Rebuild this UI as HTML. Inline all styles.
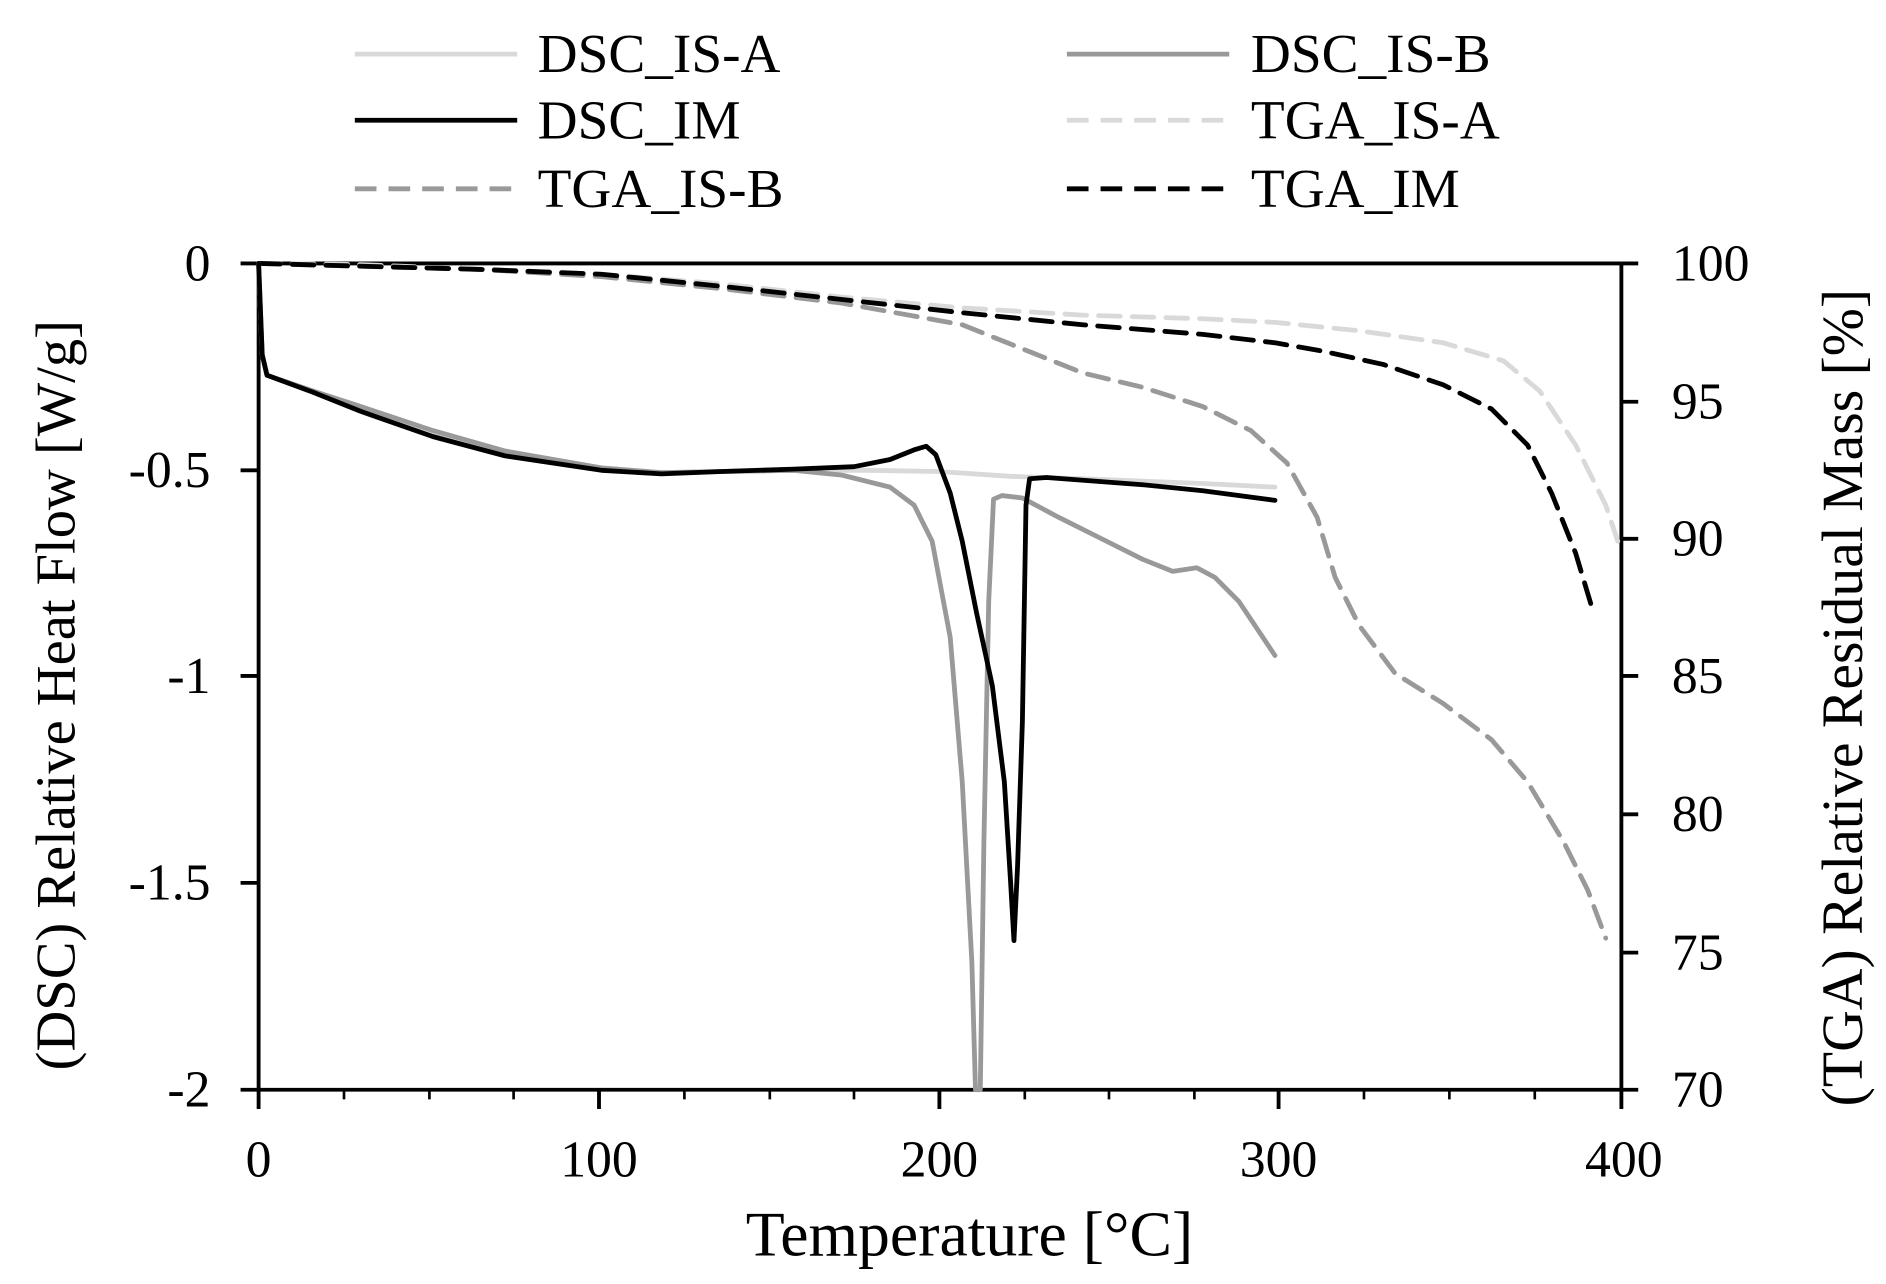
<!DOCTYPE html>
<html><head><meta charset="utf-8"><style>
html,body{margin:0;padding:0;background:#fff;}
svg{display:block;}
text{font-family:"Liberation Serif",serif;}
</style></head><body>
<svg width="1886" height="1284" viewBox="0 0 1568 1067.5" preserveAspectRatio="none" xmlns="http://www.w3.org/2000/svg">
<rect width="1568" height="1067.5" fill="#fff"/>
<g stroke-width="4" fill="none">
<line x1="295" y1="45" x2="430" y2="45" stroke="#d9d9d9"/>
<line x1="887" y1="45" x2="1022" y2="45" stroke="#999"/>
<line x1="295" y1="100" x2="430" y2="100" stroke="#000"/>
<line x1="887" y1="100" x2="1022" y2="100" stroke="#d9d9d9" stroke-dasharray="18,10"/>
<line x1="295" y1="157" x2="430" y2="157" stroke="#999" stroke-dasharray="18,10"/>
<line x1="887" y1="157" x2="1022" y2="157" stroke="#000" stroke-dasharray="18,10"/>
</g>
<g font-size="46" fill="#000">
<text x="447" y="60">DSC_IS-A</text>
<text x="1040" y="60">DSC_IS-B</text>
<text x="447" y="115">DSC_IM</text>
<text x="1040" y="115">TGA_IS-A</text>
<text x="447" y="172">TGA_IS-B</text>
<text x="1040" y="172">TGA_IM</text>
</g>
<g stroke="#000" stroke-width="3.2" fill="none">
<polyline points="215,219 1348,219"/>
<polyline points="215,906 1348,906"/>
<polyline points="215,219 215,906"/>
<polyline points="1348,219 1348,906"/>
<line x1="200" y1="219" x2="215" y2="219"/>
<line x1="200" y1="391" x2="215" y2="391"/>
<line x1="200" y1="562" x2="215" y2="562"/>
<line x1="200" y1="734" x2="215" y2="734"/>
<line x1="200" y1="906" x2="215" y2="906"/>
<line x1="1348" y1="219" x2="1362" y2="219"/>
<line x1="1348" y1="334" x2="1362" y2="334"/>
<line x1="1348" y1="448" x2="1362" y2="448"/>
<line x1="1348" y1="562" x2="1362" y2="562"/>
<line x1="1348" y1="677" x2="1362" y2="677"/>
<line x1="1348" y1="792" x2="1362" y2="792"/>
<line x1="1348" y1="906" x2="1362" y2="906"/>
<line x1="215" y1="906" x2="215" y2="922"/>
<line x1="498" y1="906" x2="498" y2="922"/>
<line x1="781" y1="906" x2="781" y2="922"/>
<line x1="1063" y1="906" x2="1063" y2="922"/>
<line x1="1348" y1="906" x2="1348" y2="922"/>
</g>
<g stroke="#000" stroke-width="2.2">
<line x1="286" y1="906" x2="286" y2="914"/><line x1="357" y1="906" x2="357" y2="914"/><line x1="427" y1="906" x2="427" y2="914"/>
<line x1="569" y1="906" x2="569" y2="914"/><line x1="640" y1="906" x2="640" y2="914"/><line x1="710" y1="906" x2="710" y2="914"/>
<line x1="852" y1="906" x2="852" y2="914"/><line x1="922" y1="906" x2="922" y2="914"/><line x1="993" y1="906" x2="993" y2="914"/>
<line x1="1134" y1="906" x2="1134" y2="914"/><line x1="1205" y1="906" x2="1205" y2="914"/><line x1="1276" y1="906" x2="1276" y2="914"/>
</g>
<g font-size="43" fill="#000">
<g text-anchor="end">
<text x="175" y="233">0</text><text x="175" y="405">-0.5</text><text x="175" y="576">-1</text><text x="175" y="748">-1.5</text><text x="175" y="920">-2</text>
</g>
<g text-anchor="start">
<text x="1390" y="233">100</text><text x="1390" y="348">95</text><text x="1390" y="462">90</text><text x="1390" y="576">85</text><text x="1390" y="691">80</text><text x="1390" y="806">75</text><text x="1390" y="920">70</text>
</g>
<g text-anchor="middle">
<text x="215" y="978">0</text><text x="498" y="978">100</text><text x="781" y="978">200</text><text x="1063" y="978">300</text><text x="1350" y="978">400</text>
</g>
</g>
<text x="806" y="1044" font-size="53" text-anchor="middle">Temperature [°C]</text>
<text transform="translate(62,578) rotate(-90)" font-size="47" text-anchor="middle">(DSC) Relative Heat Flow [W/g]</text>
<text transform="translate(1548,580) rotate(-90)" font-size="48" text-anchor="middle">(TGA) Relative Residual Mass [%]</text>
<g fill="none" stroke-width="4" stroke-linejoin="round" stroke-linecap="round">
<polyline stroke="#d9d9d9" stroke-dasharray="18,10" points="215,219 300,220 400,224 500,228 600,236 700,247 800,256 900,262 1000,265 1060,268 1130,275 1200,285 1250,300 1280,325 1310,370 1335,420 1345,450"/>
<polyline stroke="#999" stroke-dasharray="18,10" points="215,219 400,224 500,230 600,240 700,252 800,270 850,290 900,310 950,322 1000,338 1040,358 1070,385 1095,430 1110,480 1130,520 1160,560 1200,585 1240,615 1270,650 1300,700 1320,740 1335,780"/>
<polyline stroke="#000" stroke-dasharray="18,10" points="215,219 400,224 500,228 600,238 700,249 800,260 900,270 1000,278 1060,285 1100,292 1150,303 1200,320 1240,340 1270,370 1290,410 1310,460 1325,510"/>
<polyline stroke="#d9d9d9" points="215,219 218,295 222,312 260,325 300,340 360,360 420,376 500,390 550,393 600,392 660,391 720,391 780,392 840,396 900,398 1000,402 1060,405"/>
<polyline stroke="#999" points="215,219 218,295 222,312 260,325 300,338 360,358 420,375 500,389 550,393 600,392 660,391 700,395 740,405 760,420 775,450 790,530 800,650 808,800 811,906 815,906 818,700 822,500 826,415 833,412 850,414 880,430 920,450 950,465 975,475 995,472 1010,480 1030,500 1060,545"/>
<polyline stroke="#000" points="215,219 218,295 222,312 260,326 300,342 360,363 420,379 500,391 550,394 600,392 660,390 710,388 740,382 760,374 770,371 778,378 790,410 800,450 812,510 825,570 835,650 840,730 843,782 846,720 850,600 853,420 856,398 870,397 950,403 1000,408 1060,416"/>
</g>
</svg>
</body></html>
